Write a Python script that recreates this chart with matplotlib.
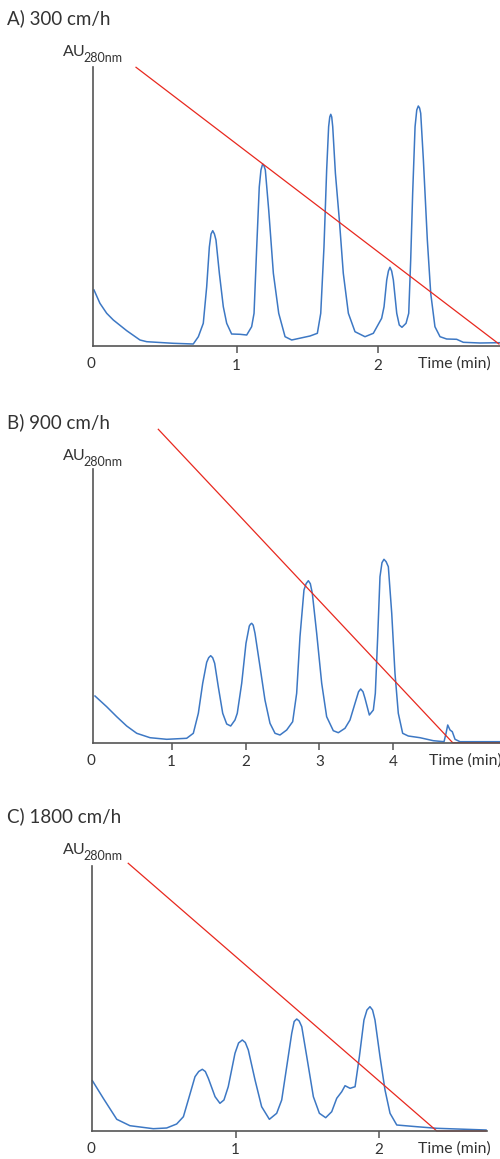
import matplotlib.pyplot as plt

W, H = 500, 1159

# A) 300 cm/h  -- time (min), absorbance (arbitrary units read off the trace)
a_time = [-0.012, 0.03, 0.078, 0.125, 0.22, 0.314, 0.362, 0.55, 0.692,
          0.728, 0.763, 0.787, 0.806, 0.818, 0.830, 0.842, 0.853, 0.877, 0.905, 0.929, 0.964, 1.023, 1.071,
          1.106, 1.123, 1.142, 1.160, 1.172, 1.184, 1.194, 1.203, 1.227, 1.260, 1.298, 1.343, 1.390, 1.520, 1.572,
          1.596, 1.619, 1.638, 1.652, 1.660, 1.667, 1.674, 1.681, 1.700, 1.728, 1.756, 1.792, 1.839, 1.910,
          1.969, 2.028,
          2.045, 2.064, 2.076, 2.087, 2.099, 2.111, 2.135, 2.153, 2.172, 2.201, 2.220,
          2.234, 2.248, 2.265, 2.277, 2.288, 2.297, 2.305, 2.324, 2.352, 2.376, 2.406, 2.442, 2.489, 2.560,
          2.607, 2.726, 2.862]
a_abs = [56, 42.7, 32.7, 26, 15.3, 6, 4.3, 2.7, 2,
         9.3, 22.7, 59, 99, 112, 115.3, 112, 106, 72.7, 39.3, 22.7, 12, 11.7, 11,
         19.3, 32.7, 99, 159, 176, 182, 180, 176, 136, 72.7, 32.7, 9.3, 6, 10, 12.7,
         32.7, 99, 176, 219.3, 229, 231.7, 229, 219.3, 172.7, 126, 72.7, 32.7, 14.3, 9.3,
         12.7, 27.7,
         39.3, 66, 75, 78.7, 75, 66, 32.7, 21, 18.7, 22.7, 32.7,
         86, 152.7, 219.3, 236, 240, 238, 232.7, 186, 106, 52.7, 19.3, 9.3, 7, 6.7,
         3.7, 3, 3.3]
a_grad_time = [0.286, 2.86]
a_grad = [278.7, 2]

# B) 900 cm/h
b_time = [-0.038, 0.12, 0.256, 0.391, 0.527, 0.707, 0.933, 1.203, 1.293,
          1.361, 1.420, 1.474, 1.501, 1.528, 1.555, 1.582, 1.631, 1.691, 1.745, 1.799, 1.857, 1.888,
          1.948, 2.006, 2.051, 2.067, 2.083, 2.104, 2.128, 2.196, 2.263, 2.331, 2.399, 2.466, 2.557, 2.638,
          2.692, 2.737, 2.791, 2.820, 2.850, 2.877, 2.904, 2.963, 3.031, 3.098, 3.188, 3.256, 3.346, 3.414,
          3.482, 3.530, 3.559, 3.590, 3.617, 3.676, 3.730, 3.757,
          3.789, 3.820, 3.847, 3.874, 3.903, 3.933, 3.979, 4.023, 4.068, 4.127, 4.203, 4.362, 4.542, 4.687,
          4.714, 4.737, 4.768, 4.799, 4.836, 4.903, 5.445]
b_abs = [46.7, 36, 26, 16.7, 9.4, 5, 3.4, 4.4, 9.4,
         29.4, 59.4, 80.4, 85, 87, 85, 79.4, 56, 29.4, 18.7, 16.7, 22.7, 29.4,
         59.4, 99.4, 116.7, 118.5, 119.4, 117.5, 109.4, 76, 42.7, 19.4, 9.4, 7.7, 12.7, 21,
         49.4, 106, 152.7, 159, 162, 159, 149.4, 109.4, 59.4, 26, 12, 10, 14.4, 22.7,
         39.4, 51, 53.7, 51, 44.4, 27.7, 32.7, 49.4,
         106, 166, 180, 183.4, 181, 176, 129.4, 69.4, 29.4, 9.4, 6.7, 5, 2, 1,
         9.4, 17.7, 12.7, 11, 3.4, 1, 1]
b_grad_time = [0.819, 4.804, 5.445]
b_grad = [313.4, 0, 0]

# C) 1800 cm/h
c_time = [0, 0.076, 0.17, 0.262, 0.425, 0.518, 0.588, 0.635,
          0.669, 0.716, 0.742, 0.767, 0.788, 0.809, 0.856, 0.890, 0.918,
          0.948, 0.995, 1.020, 1.046, 1.067, 1.088, 1.135, 1.181, 1.235, 1.286, 1.321,
          1.356, 1.391, 1.408, 1.426, 1.443, 1.461, 1.496, 1.542, 1.584, 1.628, 1.670, 1.705,
          1.740, 1.763, 1.798, 1.833,
          1.863, 1.895, 1.916, 1.937, 1.955, 1.972, 2.007, 2.042, 2.077, 2.124, 2.263, 2.403, 2.747]
c_abs = [50.3, 32.7, 11.7, 5.3, 2.3, 3, 7, 14.3,
         31, 54.3, 59.5, 61.7, 59.5, 52.7, 34.3, 27.7, 31,
         44.3, 77.7, 88, 91, 88.5, 81, 51, 24.3, 11.7, 17.7, 31,
         64.3, 97.7, 109.5, 112, 110, 104.3, 74.3, 34.3, 17.7, 13.3, 19.3, 32.7,
         39.3, 45.3, 42.7, 44.3,
         74.3, 111, 121, 124.3, 121, 111, 74.3, 41, 17.7, 6, 4.3, 2.7, 1]
c_grad_time = [0.25, 2.403, 2.747]
c_grad = [267.7, 0, 0]

titles = ["A) 300 cm/h", "B) 900 cm/h", "C) 1800 cm/h"]
ticks = [[1, 2], [1, 2, 3, 4], [1, 2]]

plt.rcParams['font.family'] = ['Lato', 'DejaVu Sans']
TEXT = "#333333"
AXIS = "#555555"
BLUE = "#3d78c4"
RED = "#e8281e"

fig = plt.figure(figsize=(W / 100, H / 100), dpi=100)


def ftext(x, y, s, size, **kw):
    fig.text(x / W, 1 - y / H, s, fontsize=size, color=TEXT, va="center", **kw)


# pixel layout: (x of t=0, px per min, axis left, axis right, plot top, baseline, spine top, title y, time label x)
layout = [
    (95.7, 141.0, 93, 500, 67, 346, 67, 18, 418),
    (97.8, 73.87, 93, 500, 429.3, 742.7, 469, 422, 429),
    (92.4, 143.3, 92.3, 487, 863.3, 1131, 866, 816, 418),
]
data = [
    (a_time, a_abs, a_grad_time, a_grad),
    (b_time, b_abs, b_grad_time, b_grad),
    (c_time, c_abs, c_grad_time, c_grad),
]

for (x0, ppm, left, right, top, base, stop, ty, tx), (t, y, gt, gy), title, tk in zip(layout, data, titles, ticks):
    ax = fig.add_axes([left / W, 1 - base / H, (right - left) / W, (base - top) / H])
    ax.set_xlim((left - x0) / ppm, (right - x0) / ppm)
    ax.set_ylim(0, base - top)
    ax.plot(t, y, color=BLUE, lw=1.1, clip_on=False, solid_joinstyle="round")
    ax.plot(gt, gy, color=RED, lw=0.9, clip_on=False)
    for s in ["top", "right"]:
        ax.spines[s].set_visible(False)
    ax.spines["left"].set_bounds(0, base - stop)
    for s in ["left", "bottom"]:
        ax.spines[s].set_color(AXIS)
        ax.spines[s].set_linewidth(1.2)
    ax.set_yticks([])
    ax.set_xticks(tk)
    ax.set_xticklabels([str(v) for v in tk])
    ax.tick_params(axis="x", direction="out", length=5, width=1.1, color=AXIS,
                   labelsize=11, labelcolor=TEXT, pad=4)
    ax.patch.set_alpha(0)

    ftext(7, ty, title, 13.5)
    ftext(63, ty + 34, "AU", 11.5)
    ftext(83, ty + 39.5, "280nm", 9)
    ftext(91, base + 18, "0", 11, ha="center")
    ftext(tx, base + 18, "Time (min)", 11.3)

fig.savefig("out.png", dpi=100)
